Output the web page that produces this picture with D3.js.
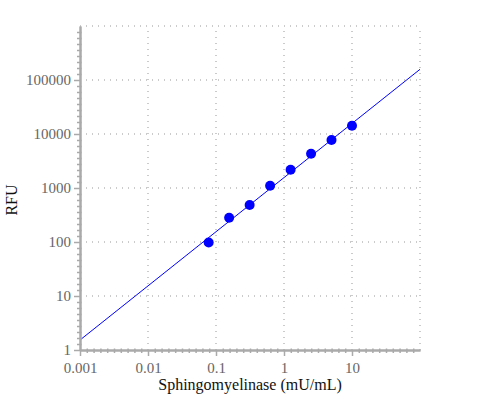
<!DOCTYPE html>
<html>
<head>
<meta charset="utf-8">
<script src="https://cdn.jsdelivr.net/npm/d3@7"></script>
<style>
  body { margin: 0; background: #fff; }
  svg text { font-family: "Liberation Serif", "DejaVu Serif", serif !important; }
</style>
</head>
<body>
<svg id="chart" width="500" height="400"></svg>
<script>
var w = 500;
var h = 400;
var margin = { top: 26, right: 80, bottom: 50, left: 80 };
var serif = "'Liberation Serif', 'DejaVu Serif', serif";

// data
var concentrations = [0.078, 0.156, 0.3125, 0.625, 1.25, 2.5, 5, 10];
var rfu = [98, 282, 484, 1100, 2180, 4320, 7740, 14250];
var fitLine = [[0.001, 1.53], [100, 157800]];
var xTicks = [0.001, 0.01, 0.1, 1, 10];
var yTicks = [1, 10, 100, 1000, 10000, 100000];

var svg = d3.select("#chart").attr("font-family", serif);

var xScale = d3.scaleLog()
  .domain([0.001, 100])
  .range([margin.left, w - margin.right]);

var yScale = d3.scaleLog()
  .domain([1, 1e6])
  .range([h - margin.bottom, margin.top]);

// minor ticks: evenly spaced along each decade
function minorTicks(lo, hi, n) {
  var out = [];
  for (var e = lo; e < hi; e++) {
    for (var k = 1; k < n; k++) out.push(Math.pow(10, e + k / n));
  }
  return out;
}
var xMinor = minorTicks(-3, 2, 10);
var yMinor = minorTicks(0, 6, 9);

// dotted grid
var grid = svg.append("g")
  .attr("stroke", "#bbb")
  .attr("stroke-width", 1.5)
  .attr("stroke-dasharray", "1,5");

grid.selectAll(".gx")
  .data(xTicks.slice(1).concat([100]))
  .enter()
  .append("line")
  .attr("x1", function(d) { return Math.round(xScale(d)); })
  .attr("x2", function(d) { return Math.round(xScale(d)); })
  .attr("y1", h - margin.bottom)
  .attr("y2", margin.top);

grid.selectAll(".gy")
  .data(yTicks.slice(1).concat([1e6]))
  .enter()
  .append("line")
  .attr("x1", margin.left)
  .attr("x2", w - margin.right)
  .attr("y1", function(d) { return Math.round(yScale(d)); })
  .attr("y2", function(d) { return Math.round(yScale(d)); });

// fit line
svg.append("path")
  .datum(fitLine)
  .attr("fill", "none")
  .attr("stroke", "#0000ff")
  .attr("stroke-width", 1)
  .attr("d", d3.line()
    .x(function(d) { return xScale(d[0]); })
    .y(function(d) { return yScale(d[1]); }));

// axes
var xAxis = svg.append("g")
  .attr("transform", "translate(0," + (h - margin.bottom) + ")");

xAxis.call(d3.axisBottom(xScale)
  .tickValues(xMinor)
  .tickSize(3)
  .tickSizeOuter(0)
  .tickFormat(""));
xAxis.selectAll(".tick line").attr("y1", -1.5);

xAxis.append("g").call(d3.axisBottom(xScale)
  .tickValues(xTicks)
  .tickSize(6)
  .tickSizeOuter(0)
  .tickFormat(function(d) { return String(d); }));

var yAxis = svg.append("g")
  .attr("transform", "translate(" + margin.left + ",0)");

yAxis.call(d3.axisLeft(yScale)
  .tickValues(yMinor)
  .tickSize(3)
  .tickSizeOuter(0)
  .tickFormat(""));
yAxis.selectAll(".tick line").attr("x1", 1.5);

yAxis.append("g").call(d3.axisLeft(yScale)
  .tickValues(yTicks)
  .tickSize(6)
  .tickSizeOuter(0)
  .tickFormat(function(d) { return String(d); }));

svg.selectAll(".domain")
  .attr("stroke", "#aaa")
  .attr("stroke-width", 2);
svg.selectAll(".tick line")
  .attr("stroke", "#aaa")
  .attr("stroke-width", 1.5);
svg.selectAll("g").attr("font-family", serif);
svg.selectAll(".tick text")
  .attr("fill", "#666")
  .style("font-size", "15px");
xAxis.selectAll(".tick text").attr("dy", "0.95em");

// points
svg.append("g")
  .selectAll("circle")
  .data(concentrations)
  .enter()
  .append("circle")
  .attr("cx", function(d) { return xScale(d); })
  .attr("cy", function(d, i) { return yScale(rfu[i]); })
  .attr("r", 5)
  .attr("fill", "#0000ff");

// axis titles
svg.append("text")
  .attr("x", (margin.left + w - margin.right) / 2)
  .attr("y", 390)
  .attr("text-anchor", "middle")
  .style("font-size", "16px")
  .attr("fill", "#111")
  .text("Sphingomyelinase (mU/mL)");

svg.append("text")
  .attr("transform", "translate(17," + 200 + ") rotate(-90)")
  .attr("text-anchor", "middle")
  .style("font-size", "16px")
  .attr("fill", "#111")
  .text("RFU");
</script>
</body>
</html>
